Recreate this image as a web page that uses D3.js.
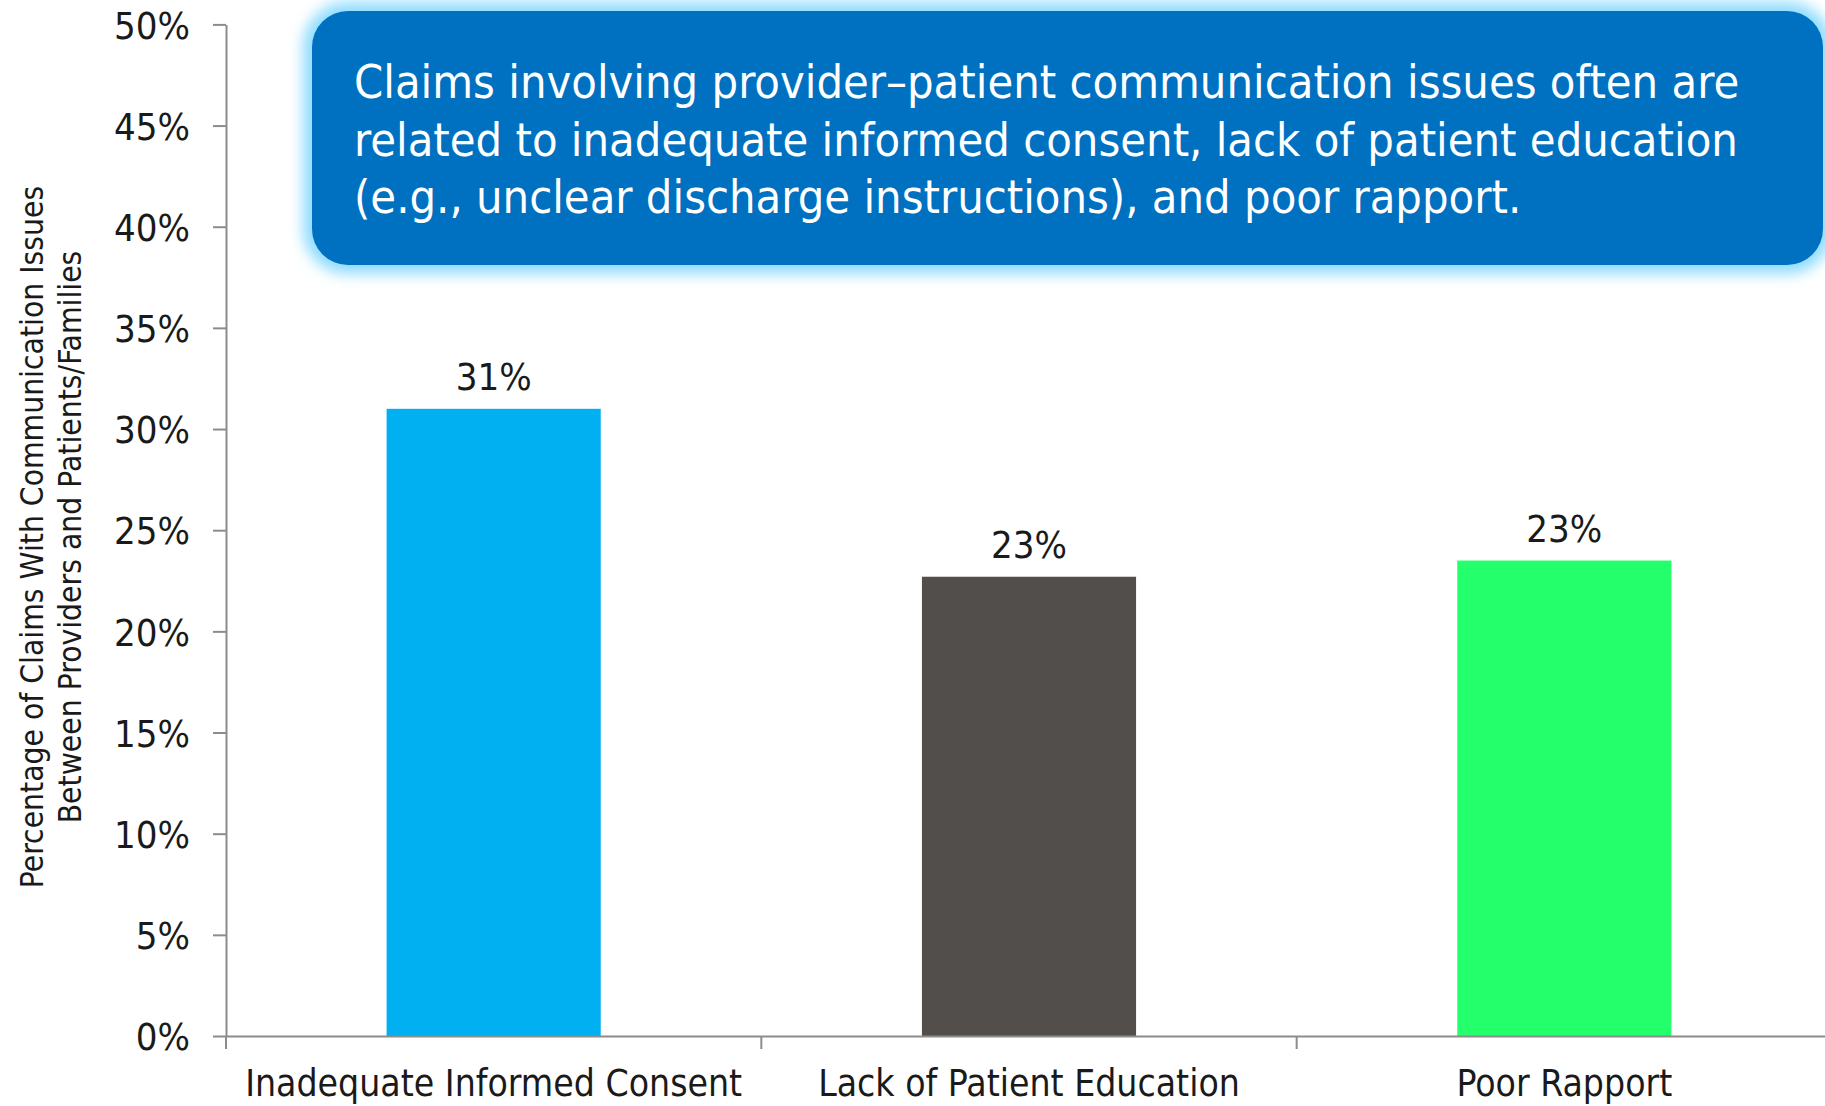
<!DOCTYPE html>
<html>
<head>
<meta charset="utf-8">
<script src="https://cdn.jsdelivr.net/npm/d3@7"></script>
<style>
  body { margin: 0; background: #fff; }
  text { font-family: "DejaVu Sans Condensed", "DejaVu Sans", sans-serif; font-stretch: condensed; }
</style>
</head>
<body>
<div id="chart"></div>
<script>
var width = 1825;
var height = 1106;

// chart data
var categories = ["Inadequate Informed Consent", "Lack of Patient Education", "Poor Rapport"];
var values = [31.0, 22.7, 23.5];
var valueLabels = ["31%", "23%", "23%"];
var barColors = ["#00B0F0", "#524E4C", "#24FF6C"];
var yTicks = [0, 5, 10, 15, 20, 25, 30, 35, 40, 45, 50];
var yTitleLines = ["Percentage of Claims With Communication Issues", "Between Providers and Patients/Families"];
var calloutLines = [
  "Claims involving provider\u2013patient communication issues often are",
  "related to inadequate informed consent, lack of patient education",
  "(e.g., unclear discharge instructions), and poor rapport."
];

var svg = d3.select("#chart")
  .append("svg")
  .attr("width", width)
  .attr("height", height);

// scales
var x = d3.scaleBand()
  .domain(categories)
  .range([226, 1832])
  .padding(0);

var y = d3.scaleLinear()
  .domain([0, 50])
  .range([1036, 24.4]);

// bars
var bw = x.bandwidth() * 0.4;
svg.selectAll("rect.bar")
  .data(values)
  .enter()
  .append("rect")
  .attr("class", "bar")
  .attr("x", function(d, i) { return x(categories[i]) + (x.bandwidth() - bw) / 2; })
  .attr("y", function(d) { return y(d); })
  .attr("width", bw)
  .attr("height", function(d) { return y(0) - y(d); })
  .style("fill", function(d, i) { return barColors[i]; });

// value labels
svg.selectAll("text.val")
  .data(values)
  .enter()
  .append("text")
  .attr("class", "val")
  .attr("x", function(d, i) { return x(categories[i]) + x.bandwidth() / 2; })
  .attr("y", function(d) { return y(d) - 19; })
  .attr("text-anchor", "middle")
  .style("font-size", "38px")
  .style("fill", "#1a1a1a")
  .text(function(d, i) { return valueLabels[i]; });

// y axis
var yAxis = d3.axisLeft(y)
  .tickValues(yTicks)
  .tickFormat(function(d) { return d + "%"; })
  .tickSize(13)
  .tickSizeOuter(0)
  .tickPadding(23);

var gy = svg.append("g")
  .attr("transform", "translate(226,0)")
  .call(yAxis);
gy.selectAll("path, line").style("stroke", "#8c8c8c").style("stroke-width", 2);
gy.selectAll("text")
  .style("font-size", "38px")
  .style("fill", "#1a1a1a")
  .attr("dy", "0.36em");

// x axis
var xAxis = d3.axisBottom(x).tickSize(0).tickSizeOuter(0).tickPadding(34);
var gx = svg.append("g")
  .attr("transform", "translate(0," + y(0) + ")")
  .call(xAxis);
gx.selectAll("path").style("stroke", "#8c8c8c").style("stroke-width", 2);
gx.selectAll("text")
  .style("font-size", "37px")
  .style("fill", "#1a1a1a")
  .attr("dy", "0.71em");

// category boundary ticks
gx.selectAll("line.bound")
  .data(categories)
  .enter()
  .append("line")
  .attr("class", "bound")
  .attr("x1", function(d) { return x(d); })
  .attr("x2", function(d) { return x(d); })
  .attr("y1", 0)
  .attr("y2", 13)
  .style("stroke", "#8c8c8c")
  .style("stroke-width", 2);

// y axis title
var yTitle = svg.append("text")
  .attr("transform", "translate(0,537) rotate(-90)")
  .attr("text-anchor", "middle")
  .style("font-size", "31.5px")
  .style("fill", "#1a1a1a");
yTitle.selectAll("tspan")
  .data(yTitleLines)
  .enter()
  .append("tspan")
  .attr("x", 0)
  .attr("y", function(d, i) { return 43 + i * 38; })
  .text(function(d) { return d; });

// callout box with glow
var defs = svg.append("defs");
var glow = defs.append("filter")
  .attr("id", "glow")
  .attr("x", "-10%").attr("y", "-20%")
  .attr("width", "120%").attr("height", "140%");
glow.append("feGaussianBlur").attr("stdDeviation", 7);

var box = { x: 312, y: 11, w: 1511, h: 254, r: 36 };
svg.append("rect")
  .attr("x", box.x).attr("y", box.y)
  .attr("width", box.w).attr("height", box.h)
  .attr("rx", box.r)
  .style("fill", "#8fdcff")
  .style("stroke", "#8fdcff")
  .style("stroke-width", 18)
  .attr("filter", "url(#glow)");

svg.append("rect")
  .attr("x", box.x).attr("y", box.y)
  .attr("width", box.w).attr("height", box.h)
  .attr("rx", box.r)
  .style("fill", "#0070C0");

svg.append("g").selectAll("text")
  .data(calloutLines)
  .enter()
  .append("text")
  .attr("x", 354)
  .attr("y", function(d, i) { return 98 + i * 57.5; })
  .style("font-size", "46.6px")
  .style("fill", "#ffffff")
  .text(function(d) { return d; });
</script>
</body>
</html>
